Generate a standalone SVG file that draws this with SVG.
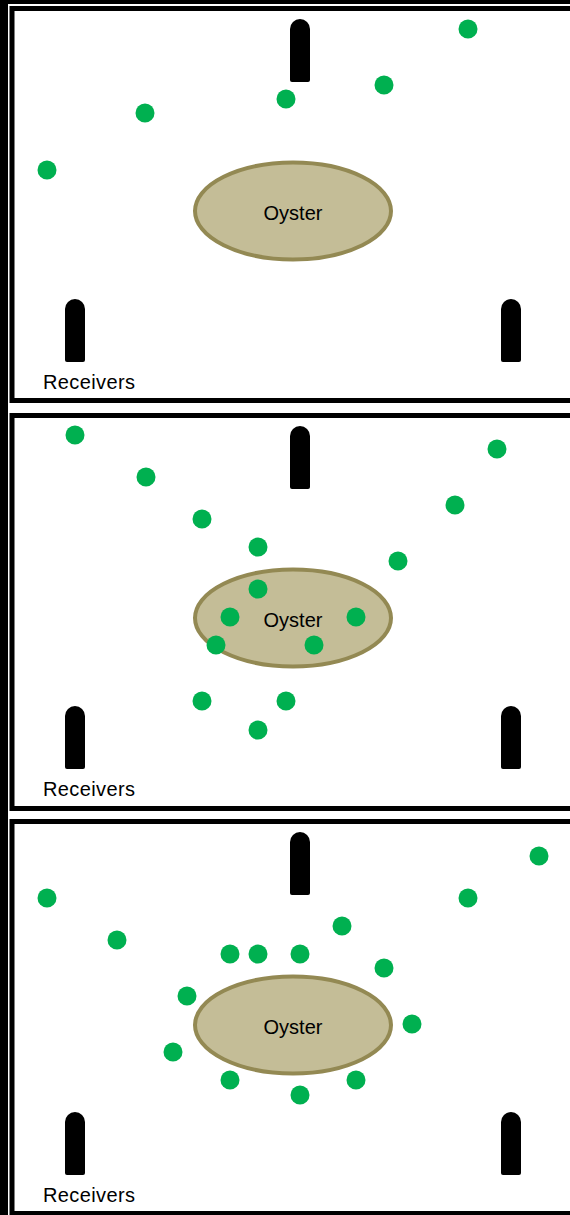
<svg xmlns="http://www.w3.org/2000/svg" xmlns:xlink="http://www.w3.org/1999/xlink" width="570" height="1215" viewBox="0 0 570 1215">
<style>
.panel{fill:#fff;stroke:#000;stroke-width:5}
.oyster{fill:#c4bd97;stroke:#938953;stroke-width:4}
.dot{fill:#00b050}
.rx{fill:#000}
.lbl{font-family:"Liberation Sans",Arial,sans-serif;font-size:20px;fill:#000}
.oy{font-family:"Liberation Sans",Arial,sans-serif;font-size:20px;fill:#000;text-anchor:middle}
</style>
<defs>
<path id="recv" d="M0,10 A10,10 0 0 1 20,10 V61 A2,2 0 0 1 18,63 H2 A2,2 0 0 1 0,61 Z"/>
</defs>
<rect x="0" y="0" width="570" height="1215" fill="#fff"/>
<rect x="0" y="0" width="570" height="4" fill="#000"/>
<rect x="0" y="0" width="8" height="1215" fill="#000"/>
<g id="panel1">
<rect class="panel" x="12" y="8.5" width="570" height="392"/>
<g id="oyster1"><ellipse class="oyster" cx="293" cy="211" rx="98" ry="48.5"/><text class="oy" x="293" y="220">Oyster</text></g>
<g id="receivers1" class="rx"><use xlink:href="#recv" x="290" y="19"/><use xlink:href="#recv" x="65" y="299"/><use xlink:href="#recv" x="501" y="299"/><text class="lbl" x="43" y="389" textLength="92">Receivers</text></g>
<g id="fish1" class="dot">
<circle cx="468" cy="29" r="9.5"/><circle cx="384" cy="85" r="9.5"/><circle cx="286" cy="99" r="9.5"/><circle cx="145" cy="113" r="9.5"/><circle cx="47" cy="170" r="9.5"/>
</g>
</g>
<g id="panel2">
<rect class="panel" x="12" y="415.5" width="570" height="393"/>
<g id="oyster2"><ellipse class="oyster" cx="293" cy="618" rx="98" ry="48.5"/><text class="oy" x="293" y="627">Oyster</text></g>
<g id="receivers2" class="rx"><use xlink:href="#recv" x="290" y="426"/><use xlink:href="#recv" x="65" y="706"/><use xlink:href="#recv" x="501" y="706"/><text class="lbl" x="43" y="796" textLength="92">Receivers</text></g>
<g id="fish2" class="dot">
<circle cx="75" cy="435" r="9.5"/><circle cx="146" cy="477" r="9.5"/><circle cx="202" cy="519" r="9.5"/><circle cx="497" cy="449" r="9.5"/><circle cx="455" cy="505" r="9.5"/><circle cx="398" cy="561" r="9.5"/><circle cx="258" cy="547" r="9.5"/><circle cx="258" cy="589" r="9.5"/><circle cx="230" cy="617" r="9.5"/><circle cx="356" cy="617" r="9.5"/><circle cx="216" cy="645" r="9.5"/><circle cx="314" cy="645" r="9.5"/><circle cx="202" cy="701" r="9.5"/><circle cx="286" cy="701" r="9.5"/><circle cx="258" cy="730" r="9.5"/>
</g>
</g>
<g id="panel3">
<rect class="panel" x="12" y="821.5" width="570" height="392"/>
<g id="oyster3"><ellipse class="oyster" cx="293" cy="1025" rx="98" ry="48.5"/><text class="oy" x="293" y="1034">Oyster</text></g>
<g id="receivers3" class="rx"><use xlink:href="#recv" x="290" y="832"/><use xlink:href="#recv" x="65" y="1112"/><use xlink:href="#recv" x="501" y="1112"/><text class="lbl" x="43" y="1202" textLength="92">Receivers</text></g>
<g id="fish3" class="dot">
<circle cx="539" cy="856" r="9.5"/><circle cx="47" cy="898" r="9.5"/><circle cx="468" cy="898" r="9.5"/><circle cx="117" cy="940" r="9.5"/><circle cx="342" cy="926" r="9.5"/><circle cx="230" cy="954" r="9.5"/><circle cx="258" cy="954" r="9.5"/><circle cx="300" cy="954" r="9.5"/><circle cx="384" cy="968" r="9.5"/><circle cx="187" cy="996" r="9.5"/><circle cx="412" cy="1024" r="9.5"/><circle cx="173" cy="1052" r="9.5"/><circle cx="230" cy="1080" r="9.5"/><circle cx="356" cy="1080" r="9.5"/><circle cx="300" cy="1095" r="9.5"/>
</g>
</g>
</svg>
